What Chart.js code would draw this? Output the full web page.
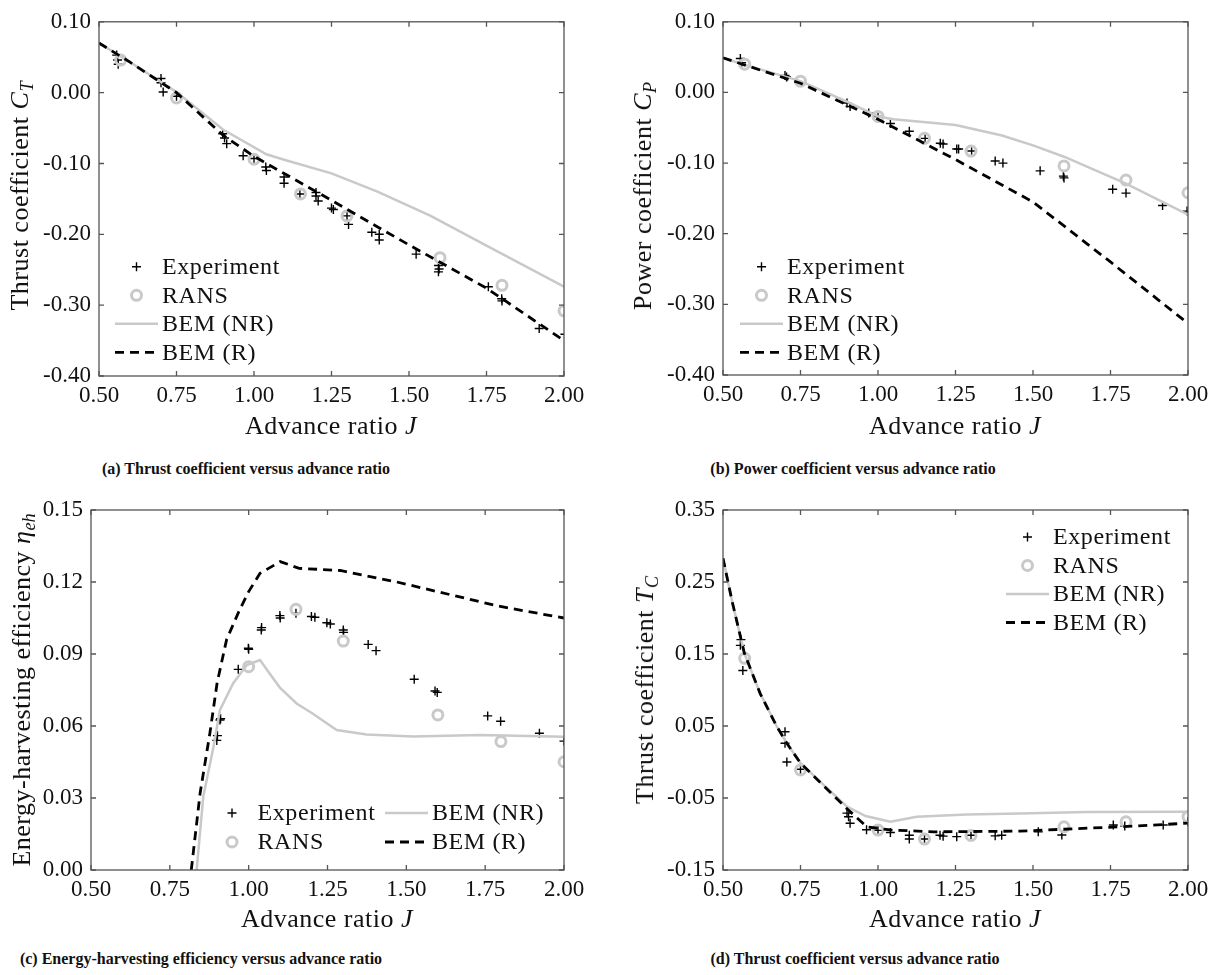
<!DOCTYPE html>
<html>
<head>
<meta charset="utf-8">
<script src="https://cdn.jsdelivr.net/npm/chart.js@4.4.1/dist/chart.umd.min.js"></script>
<style>
  body { margin: 0; background: #fff; }
  #page { position: relative; width: 1217px; height: 975px; overflow: hidden;
          font-family: "Liberation Serif", "Times New Roman", serif; color: #111; }
  canvas { position: absolute; }
  .xt, .yt { position: absolute; font-size: 26px; letter-spacing: 0.5px; line-height: 1; white-space: nowrap; }
  .xt { transform: translateX(-50%); }
  .yt { transform: translate(-50%, -50%) rotate(-90deg); }
  .cap { position: absolute; font-size: 16px; font-weight: bold; line-height: 1;
         white-space: nowrap; transform: translateX(-50%); }
  sub { font-size: 70%; vertical-align: -0.3em; line-height: 0; letter-spacing: 0; }
</style>
</head>
<body>
<div id="page">
  <canvas id="chartA"></canvas>
  <canvas id="chartB"></canvas>
  <canvas id="chartC"></canvas>
  <canvas id="chartD"></canvas>

  <div class="xt" style="left:331px; top:413px;">Advance ratio <i>J</i></div>
  <div class="xt" style="left:955px; top:413px;">Advance ratio <i>J</i></div>
  <div class="xt" style="left:327px; top:906px;">Advance ratio <i>J</i></div>
  <div class="xt" style="left:955px; top:906px;">Advance ratio <i>J</i></div>

  <div class="yt" style="left:20px; top:196px;">Thrust coefficient <i>C</i><sub><i>T</i></sub></div>
  <div class="yt" style="left:643px; top:196px;">Power coefficient <i>C</i><sub><i>P</i></sub></div>
  <div class="yt" style="left:22px; top:690px;">Energy-harvesting efficiency <i>η</i><sub><i>eh</i></sub></div>
  <div class="yt" style="left:645px; top:690px;">Thrust coefficient <i>T</i><sub><i>C</i></sub></div>

  <div class="cap" style="left:246px; top:461px;">(a) Thrust coefficient versus advance ratio</div>
  <div class="cap" style="left:853px; top:461px;">(b) Power coefficient versus advance ratio</div>
  <div class="cap" style="left:201px; top:951px;">(c) Energy-harvesting efficiency versus advance ratio</div>
  <div class="cap" style="left:855px; top:951px;">(d) Thrust coefficient versus advance ratio</div>
</div>

<script>
const SERIF = '"Liberation Serif", "Times New Roman", serif';
const GREY = "#c9c9c9";
const INK = "#111111";
const AXIS = "#555555";

const seriesLabels = ["Experiment", "RANS", "BEM (NR)", "BEM (R)"];

// tick values
const jTicks = [0.5, 0.75, 1.0, 1.25, 1.5, 1.75, 2.0];
const coefTicks = [-0.4, -0.3, -0.2, -0.1, 0.0, 0.1];
const etaTicks = [0.0, 0.03, 0.06, 0.09, 0.12, 0.15];
const tcTicks = [-0.15, -0.05, 0.05, 0.15, 0.25, 0.35];

// RANS (same advance ratios for every panel)
const ransJ = [0.57, 0.75, 1.0, 1.15, 1.3, 1.6, 1.8, 2.0];
const ransCT = [0.046, -0.0075, -0.094, -0.143, -0.174, -0.233, -0.272, -0.308];
const ransCP = [0.040, 0.016, -0.034, -0.065, -0.083, -0.104, -0.124, -0.142];
const ransEtaJ = [1.0, 1.15, 1.3, 1.6, 1.8, 2.0];
const ransEta = [0.0847, 0.1086, 0.0954, 0.0646, 0.0535, 0.0451];
const ransTC = [0.144, -0.011, -0.0945, -0.107, -0.102, -0.090, -0.083, -0.076];

// experiment
const expCtJ = [0.557, 0.560, 0.562, 0.700, 0.700, 0.707, 0.750, 0.899, 0.905, 0.912, 0.965, 1.000,
  1.038, 1.040, 1.097, 1.097, 1.148, 1.200, 1.207, 1.200, 1.250, 1.256, 1.300, 1.305, 1.380,
  1.404, 1.404, 1.523, 1.595, 1.595, 1.597, 1.756, 1.799, 1.800, 1.920, 2.003];
const expCt = [0.053, 0.046, 0.040, 0.020, 0.014, 0.001, -0.005, -0.058, -0.064, -0.072, -0.089, -0.093,
  -0.105, -0.110, -0.119, -0.128, -0.143, -0.146, -0.153, -0.141, -0.163, -0.165, -0.174, -0.186, -0.197,
  -0.200, -0.208, -0.228, -0.244, -0.253, -0.249, -0.274, -0.291, -0.294, -0.333, -0.341];

const expCpJ = [0.556, 0.560, 0.700, 0.705, 0.900, 0.910, 0.970, 1.000, 1.040, 1.101, 1.152, 1.201,
  1.210, 1.254, 1.260, 1.302, 1.378, 1.403, 1.523, 1.598, 1.600, 1.757, 1.800, 1.918, 1.997];
const expCp = [0.048, 0.042, 0.024, 0.022, -0.015, -0.020, -0.029, -0.034, -0.044, -0.055, -0.065, -0.072,
  -0.073, -0.080, -0.080, -0.083, -0.097, -0.100, -0.111, -0.1185, -0.121, -0.137, -0.1425, -0.160, -0.168];

const expEtaJ = [0.899, 0.901, 0.909, 0.911, 0.967, 0.999, 1.000, 1.040, 1.041, 1.099, 1.100, 1.150,
  1.199, 1.210, 1.248, 1.259, 1.300, 1.301, 1.379, 1.404, 1.525, 1.591, 1.598, 1.758, 1.799, 1.922, 2.000];
const expEta = [0.054, 0.056, 0.0625, 0.063, 0.0836, 0.0924, 0.0920, 0.100, 0.101, 0.106, 0.105, 0.107,
  0.1056, 0.1053, 0.103, 0.1025, 0.100, 0.099, 0.094, 0.0914, 0.0795, 0.0746, 0.074, 0.0642, 0.062, 0.057, 0.0537];

const expTcJ = [0.558, 0.556, 0.564, 0.700, 0.700, 0.706, 0.750, 0.900, 0.905, 0.910, 0.963, 1.000, 1.040,
  1.101, 1.101, 1.150, 1.200, 1.210, 1.254, 1.300, 1.378, 1.399, 1.517, 1.593, 1.759, 1.796, 1.920, 2.000];
const expTc = [0.170, 0.162, 0.127, 0.042, 0.026, 0.000, -0.010, -0.071, -0.076, -0.085, -0.094, -0.095, -0.098,
  -0.1017, -0.107, -0.107, -0.1017, -0.103, -0.1037, -0.1017, -0.1026, -0.1017, -0.097, -0.1014, -0.0875,
  -0.089, -0.0875, -0.083];

// BEM curves
const nrCtJ = [0.5, 0.6, 0.75, 0.9, 1.04, 1.1, 1.25, 1.4, 1.57, 1.75, 2.0];
const nrCt = [0.070, 0.043, 0.001, -0.052, -0.087, -0.095, -0.114, -0.140, -0.174, -0.216, -0.274];
const rCtJ = [0.5, 0.6, 0.75, 0.9, 1.0, 1.25, 1.5, 1.75, 2.0];
const rCt = [0.070, 0.043, 0.000, -0.060, -0.090, -0.152, -0.215, -0.276, -0.350];

const nrCpJ = [0.5, 0.57, 0.75, 0.9, 1.0, 1.05, 1.25, 1.4, 1.5, 1.6, 1.8, 2.0];
const nrCp = [0.049, 0.039, 0.016, -0.013, -0.034, -0.038, -0.046, -0.061, -0.075, -0.091, -0.129, -0.173];
const rCpJ = [0.5, 0.75, 1.0, 1.25, 1.5, 1.75, 2.0];
const rCp = [0.049, 0.013, -0.038, -0.095, -0.155, -0.240, -0.327];

const nrEtaJ = [0.835, 0.856, 0.888, 0.909, 0.951, 0.994, 1.036, 1.06, 1.099, 1.152, 1.205, 1.279, 1.374, 1.522, 1.734, 2.0];
const nrEta = [0.0, 0.0305, 0.051, 0.0667, 0.0778, 0.0854, 0.0875, 0.083, 0.0760, 0.0694, 0.0650, 0.0583, 0.0565, 0.0556, 0.0562, 0.0555];
const rEtaJ = [0.818, 0.846, 0.877, 0.90, 0.93, 0.97, 1.0, 1.036, 1.10, 1.16, 1.29, 1.47, 1.79, 2.0];
const rEta = [0.0, 0.032, 0.057, 0.078, 0.096, 0.108, 0.116, 0.1236, 0.1285, 0.1257, 0.1248, 0.120, 0.110, 0.105];

const nrTcJ = [0.5, 0.53, 0.569, 0.62, 0.674, 0.706, 0.749, 0.803, 0.9, 0.96, 1.04, 1.125, 1.286, 1.458, 1.673, 2.0];
const nrTc = [0.283, 0.222, 0.151, 0.095, 0.049, 0.026, -0.001, -0.023, -0.062, -0.075, -0.083, -0.076, -0.073, -0.0716, -0.0694, -0.069];
const rTcJ = [0.5, 0.53, 0.569, 0.62, 0.674, 0.706, 0.749, 0.803, 0.9, 0.964, 1.04, 1.18, 1.458, 1.78, 2.0];
const rTc = [0.283, 0.222, 0.151, 0.095, 0.049, 0.026, -0.001, -0.024, -0.065, -0.090, -0.0944, -0.097, -0.096, -0.090, -0.085];

function pts(xs, ys) {
  return xs.map((x, i) => ({ x: x, y: ys[i] }));
}

function makeSets(exp, rans, nr, r) {
  return [
    { label: seriesLabels[0], data: exp, showLine: false, pointStyle: "cross", pointRadius: 4.5,
      borderColor: "#000", pointBorderWidth: 1.4, order: 3 },
    { label: seriesLabels[1], data: rans, showLine: false, pointStyle: "circle", pointRadius: 5,
      backgroundColor: "rgba(0,0,0,0)", borderColor: GREY, pointBorderWidth: 3, order: 2 },
    { label: seriesLabels[2], data: nr, showLine: true, pointRadius: 0, borderColor: GREY,
      borderWidth: 2.5, tension: 0, order: 1 },
    { label: seriesLabels[3], data: r, showLine: true, pointRadius: 0, borderColor: "#000",
      borderWidth: 2.8, borderDash: [9, 6], tension: 0, order: 0 },
  ];
}

// box with inward ticks on all four sides
const framePlugin = {
  id: "frame",
  afterDatasetsDraw(chart) {
    const { ctx, chartArea: a, scales } = chart;
    const tl = 5;
    ctx.save();
    ctx.strokeStyle = AXIS;
    ctx.lineWidth = 1.3;
    ctx.strokeRect(a.left, a.top, a.right - a.left, a.bottom - a.top);
    ctx.beginPath();
    scales.x.ticks.forEach((t) => {
      const px = scales.x.getPixelForValue(t.value);
      ctx.moveTo(px, a.bottom); ctx.lineTo(px, a.bottom - tl);
      ctx.moveTo(px, a.top); ctx.lineTo(px, a.top + tl);
    });
    scales.y.ticks.forEach((t) => {
      const py = scales.y.getPixelForValue(t.value);
      ctx.moveTo(a.left, py); ctx.lineTo(a.left + tl, py);
      ctx.moveTo(a.right, py); ctx.lineTo(a.right - tl, py);
    });
    ctx.stroke();
    ctx.restore();
  },
};

// legend drawn inside the axes, like the matlab one
const legendPlugin = {
  id: "insideLegend",
  afterDraw(chart, args, opts) {
    const { ctx, chartArea: a } = chart;
    ctx.save();
    ctx.font = "24px " + SERIF;
    ctx.letterSpacing = "0.6px";
    ctx.textBaseline = "middle";
    opts.items.forEach((it) => {
      const ds = chart.data.datasets[it.ds];
      const x = a.left + it.dx;
      const y = a.top + it.dy;
      if (ds.showLine) {
        ctx.strokeStyle = ds.borderColor;
        ctx.lineWidth = ds.borderWidth;
        ctx.setLineDash(ds.borderDash || []);
        ctx.beginPath();
        ctx.moveTo(x, y);
        ctx.lineTo(x + 43, y);
        ctx.stroke();
        ctx.setLineDash([]);
      } else {
        ctx.strokeStyle = ds.borderColor;
        ctx.fillStyle = "rgba(0,0,0,0)";
        ctx.lineWidth = ds.pointBorderWidth;
        Chart.helpers.drawPoint(ctx, { pointStyle: ds.pointStyle, radius: ds.pointRadius,
          borderWidth: ds.pointBorderWidth, rotation: 0 }, x + 21.5, y);
      }
      ctx.fillStyle = INK;
      ctx.fillText(ds.label, x + 47, y + 1);
    });
    ctx.restore();
  },
};

function fmt(v) {
  return (Math.abs(v) < 1e-9 ? 0 : v).toFixed(2);
}

function panel(id, box, area, sets, yTicks, legendItems) {
  const cv = document.getElementById(id);
  cv.width = box.w;
  cv.height = box.h;
  cv.style.left = box.x + "px";
  cv.style.top = box.y + "px";
  const tickFont = { family: SERIF, size: 23 };
  return new Chart(cv, {
    type: "scatter",
    data: { datasets: sets },
    options: {
      responsive: false,
      animation: false,
      devicePixelRatio: 1,
      events: [],
      layout: { padding: { left: 0, top: area.t - box.y, right: box.x + box.w - area.r, bottom: 0 } },
      plugins: {
        legend: { display: false },
        tooltip: { enabled: false },
        insideLegend: { items: legendItems },
      },
      scales: {
        x: {
          type: "linear",
          min: jTicks[0],
          max: jTicks[jTicks.length - 1],
          grid: { display: false, drawTicks: false },
          border: { display: false },
          afterBuildTicks: (s) => { s.ticks = jTicks.map((v) => ({ value: v })); },
          afterFit: (s) => { s.height = box.y + box.h - area.b; },
          ticks: { font: tickFont, color: INK, padding: 6, maxRotation: 0, autoSkip: false, callback: fmt },
        },
        y: {
          type: "linear",
          min: yTicks[0],
          max: yTicks[yTicks.length - 1],
          grid: { display: false, drawTicks: false },
          border: { display: false },
          afterBuildTicks: (s) => { s.ticks = yTicks.map((v) => ({ value: v })); },
          afterFit: (s) => { s.width = area.l - box.x; },
          ticks: { font: tickFont, color: INK, padding: 8, autoSkip: false, callback: fmt },
        },
      },
    },
    plugins: [framePlugin, legendPlugin],
  });
}

const stackedLegend = (dx, dy) => [0, 1, 2, 3].map((ds, i) => ({ ds: ds, dx: dx, dy: dy + i * 28.5 }));

panel("chartA", { x: 0, y: 0, w: 600, h: 420 }, { l: 99, t: 16, r: 564, b: 376 },
  makeSets(pts(expCtJ, expCt), pts(ransJ, ransCT), pts(nrCtJ, nrCt), pts(rCtJ, rCt)),
  coefTicks, stackedLegend(16, 245));

panel("chartB", { x: 600, y: 0, w: 617, h: 420 }, { l: 723, t: 16, r: 1188, b: 375 },
  makeSets(pts(expCpJ, expCp), pts(ransJ, ransCP), pts(nrCpJ, nrCp), pts(rCpJ, rCp)),
  coefTicks, stackedLegend(17, 245));

panel("chartC", { x: 0, y: 480, w: 600, h: 440 }, { l: 91, t: 510, r: 564, b: 870 },
  makeSets(pts(expEtaJ, expEta), pts(ransEtaJ, ransEta), pts(nrEtaJ, nrEta), pts(rEtaJ, rEta)),
  etaTicks, [
    { ds: 0, dx: 119.5, dy: 303 }, { ds: 1, dx: 119.5, dy: 332 },
    { ds: 2, dx: 294, dy: 303 }, { ds: 3, dx: 294, dy: 332 },
  ]);

panel("chartD", { x: 600, y: 480, w: 617, h: 440 }, { l: 723, t: 510, r: 1188, b: 870 },
  makeSets(pts(expTcJ, expTc), pts(ransJ, ransTC), pts(nrTcJ, nrTc), pts(rTcJ, rTc)),
  tcTicks, stackedLegend(283, 27));
</script>
</body>
</html>
